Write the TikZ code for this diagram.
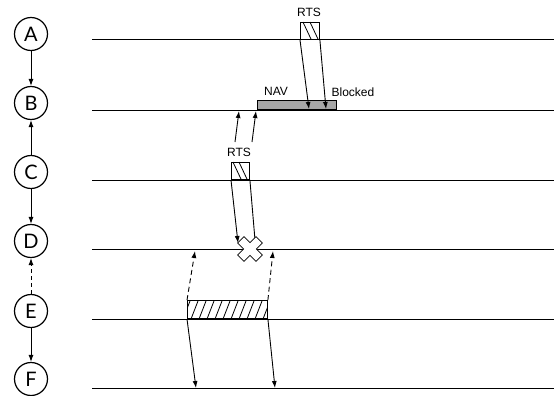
\documentclass[tikz,border=0pt]{standalone}
\usepackage{fontspec}
\setmainfont{Liberation Sans}
\newfontfamily\stationfont{Lato}
\usetikzlibrary{arrows.meta}

\begin{document}
\begin{tikzpicture}[x=1pt, y=-1pt,
  station/.style={draw, circle, line width=1.2pt, minimum size=33pt, inner sep=0pt, font=\stationfont\fontsize{20}{20}\selectfont},
  timeline/.style={line width=1pt},
  msg/.style={-{Latex[length=7pt,width=5pt]}, line width=0.9pt},
  frame/.style={draw, line width=0.9pt, inner sep=0pt, anchor=south west},
  lbl/.style={font=\fontsize{12}{14}\selectfont, inner sep=1pt}
]
  \useasboundingbox (0,0) rectangle (554,396);
  \node[station] (A) at (31,34) {A};
  \node[station] (B) at (31,103) {B};
  \node[station] (C) at (31,172) {C};
  \node[station] (D) at (31,241) {D};
  \node[station] (E) at (31,311) {E};
  \node[station] (F) at (31,379) {F};
  \draw[msg] (A) -- (B);
  \draw[msg] (C) -- (B);
  \draw[msg] (C) -- (D);
  \draw[msg, dash pattern=on 4pt off 3pt] (E) -- (D);
  \draw[msg] (E) -- (F);
  \foreach \n/\y in {A/40, B/110, C/180, D/249, E/319, F/388}
    \draw[timeline] (92,\y) -- (554,\y);
  % A sends RTS
  \node[frame, minimum width=19pt, minimum height=17pt] (rtsA) at (300,40) {};
  \draw[line width=0.8pt] (rtsA.north west) ++(3,0) -- ++(8,17);
  \draw[line width=0.8pt] (rtsA.north west) ++(10,0) -- ++(8,17);
  \node[lbl] (rtsAlbl) at (309,12) {RTS};
  \node[frame, fill=black!35, minimum width=79pt, minimum height=9pt] (nav) at (257,110) {};
  \node[lbl] (navlbl) at (276,91) {NAV};
  \node[lbl] (blocked) at (353,92) {Blocked};
  \coordinate (hitB1) at (309,109);
  \coordinate (hitB2) at (326,109);
  \draw[msg] (rtsA.south west) -- (hitB1);
  \draw[msg] (rtsA.south east) -- (hitB2);
  % C sends RTS
  \node[frame, minimum width=18pt, minimum height=17pt] (rtsC) at (231,180) {};
  \draw[line width=0.8pt] (rtsC.north west) ++(2,0) -- ++(8,17);
  \draw[line width=0.8pt] (rtsC.north west) ++(8,0) -- ++(8,17);
  \node[lbl] (rtsClbl) at (239,152) {RTS};
  \coordinate (upC1) at (235,142);
  \coordinate (upC2) at (252,142);
  \coordinate (upB1) at (239,111);
  \coordinate (upB2) at (256,111);
  \draw[msg] (upC1) -- (upB1);
  \draw[msg] (upC2) -- (upB2);
  \coordinate (lost) at (250,249);
  \coordinate (lost1) at (238,243);
  \coordinate (lost2) at (255,240);
  \draw[line width=0.9pt] (rtsC.south east) -- (lost2);
  \draw[line width=0.8pt, fill=white, shift={(lost)}, rotate=45]
    (-4.5,-13) -- (4.5,-13) -- (4.5,-4.5) -- (13,-4.5) -- (13,4.5) -- (4.5,4.5)
    -- (4.5,13) -- (-4.5,13) -- (-4.5,4.5) -- (-13,4.5) -- (-13,-4.5) -- (-4.5,-4.5) -- cycle;
  \draw[msg] (rtsC.south west) -- (lost1);
  % E transmits
  \node[frame, minimum width=80pt, minimum height=18pt] (dataE) at (187,319) {};
  \begin{scope}
    \clip (dataE.south west) rectangle (dataE.north east);
    \foreach \i in {0,...,11}
      \draw[line width=0.8pt] (183+8*\i,319) -- ++(7,-18);
  \end{scope}
  \node[frame, minimum width=80pt, minimum height=18pt] at (187,319) {};
  \coordinate (upD1) at (195,251);
  \coordinate (upD2) at (273,251);
  \coordinate (downF1) at (196,388);
  \coordinate (downF2) at (275,388);
  \draw[msg, dash pattern=on 5pt off 3.5pt] (dataE.north west) -- (upD1);
  \draw[msg, dash pattern=on 5pt off 3.5pt] (dataE.north east) -- (upD2);
  \draw[msg] (dataE.south west) -- (downF1);
  \draw[msg] (dataE.south east) -- (downF2);
\end{tikzpicture}
\end{document}
